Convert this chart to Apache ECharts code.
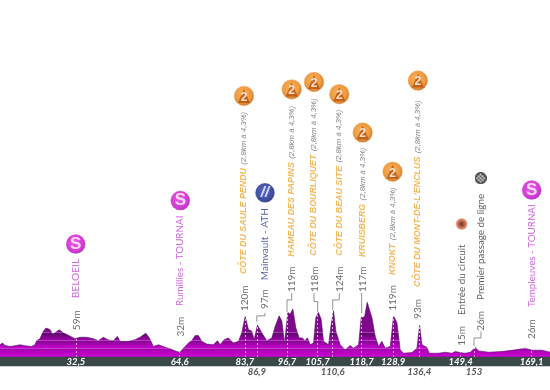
<!DOCTYPE html>
<html><head><meta charset="utf-8">
<style>html,body{margin:0;padding:0;background:#fff}#c{width:550px;height:390px}</style>
<script src="https://cdn.jsdelivr.net/npm/echarts@6/dist/echarts.min.js"></script>
</head><body><div id="c"></div>
<script>
// Profile: position along the axis (km) and altitude (m)
const profileKm = [9.7,10.5,11.2,12.7,14.2,15.7,17.2,19.2,20.2,20.7,21.7,22.7,23.5,24.7,25.5,26.2,27.5,28.7,30.2,32.2,33.7,35.7,37.7,39.2,40.7,42.2,43.7,44.9,45.7,48.2,50.2,51.7,53.4,54.5,55.7,57.2,59.2,60.7,62.7,63.7,64.7,66.2,67.2,68.2,69.2,70.2,71.7,73.7,74.9,75.7,76.9,78.2,79.7,81.2,82.2,83.2,84.2,85.2,85.9,86.9,88.2,89.7,91.2,92.2,93.4,94.2,95,96,96.7,97.5,98.4,99.4,100.4,101,101.9,102.7,103.7,104.4,105.2,106,106.7,108.2,109,109.7,110.4,111.7,113.2,114.7,115.7,117.2,118,119,119.8,121.2,122.2,123.2,124.2,125.2,126.7,127.7,128.7,129.7,130.7,133.2,134.7,135.5,136.2,137.7,138.4,141.2,143.2,145.2,146.2,147.7,149.2,150.7,152.2,153.2,156.2,160.2,164.2,167.2,169.2,172.2,174.7];
const profileM = [36,41,34,31,33,36,33,31,36,48,54,76,85,81,68,71,80,71,64,54,58,58,54,48,58,50,48,61,46,46,51,58,70,56,31,36,29,24,16,14,26,41,48,63,63,46,38,36,48,36,51,56,41,46,71,119,81,76,51,94,71,48,56,90,121,106,41,131,126,141,86,56,56,48,56,36,41,116,131,111,46,36,96,136,76,36,21,34,26,36,116,118,161,116,61,31,46,26,31,121,101,21,11,13,26,93,36,28,11,11,14,11,16,13,11,14,28,18,14,16,21,26,20,20,14];

// Distance markers: where they sit on the axis, what they print, altitude there
const tickKm    = [32.5,63.6,83.1,86.7,95.75,104.95,109.45,118.14,127.6,135.4,147.8,151.8,169.1];
const tickText  = ['32,5','64,6','83,7','86,9','96,7','105,7','110,6','118,7','128,9','136,4','149,4','153','169,1'];
const tickRow   = [0,0,0,1,0,0,1,0,0,1,0,1,0];
const tickAlt   = [54,14,119,94,131,131,136,116,121,93,13,28,20];

// Rotated place labels
const placeKm   = [32.4,63.77,82.86,89.16,97.16,103.85,111.43,118.44,127.4,135.0,148.1,153.8,169.1];
const placeBase = [172.6,150,244,226,295,298,298,294,241,206,123.5,168,147];
const placeName = ['BELOEIL','Rumillies - TOURNAI','CÔTE DU SAULE PENDU','Mainvault - ATH','HAMEAU DES PAPINS','CÔTE DU BOURLIQUET','CÔTE DU BEAU SITE','KRUISBERG','KNOKT','CÔTE DU MONT-DE-L\'ENCLUS','Entrée du circuit','Premier passage de ligne','Templeuves - TOURNAI'];
const placeNote = ['','','(2,8km à 4,3%)','','(2,8km à 4,3%)','(2,8km à 4,3%)','(2,8km à 4,3%)','(2,8km à 4,3%)','(2,8km à 4,3%)','(2,8km à 4,3%)','','',''];
const placeKind = ['sprint','sprint','climb','ath','climb','climb','climb','climb','climb','climb','circuit','line','sprint'];
const iconAlt   = [332,460,768,483,787,809,773,660,545,813,391,526,491];

// Altitude labels
const altKm   = [32.7,63.77,83.16,89.16,97.16,104.15,111.43,118.5,127.6,135.1,148.1,153.9,169.1];
const altBase = [79,60,135,141,191,191,191,191,136,112,33,77,53];
const altText = ['59m','32m','120m','97m','119m','118m','124m','117m','119m','93m','15m','26m','26m'];

// Elbowed leaders: [km at peak, from alt, elbow alt, km at label, to alt]
const leaders = [
  [86.7,103,121,89.16,130],
  [95.75,133,168,97.16,188],
  [104.95,132,163,103.85,188],
  [109.45,138,168,111.43,188],
  [118.14,129,188,118.14,188],
  [151.8,32,56,153.9,76]
];

const yMax = 1050;
const bands = [[0,26,'#cb00d3'],[26,48,'#a400ae'],[48,72,'#7f0a8b'],[72,yMax,'#560a66']];
const bandLines = [26,48,72];
const stops = [];
bands.forEach(b=>{
  stops.push({offset:1-b[1]/yMax,color:b[2]});
  stops.push({offset:1-b[0]/yMax,color:b[2]});
});
stops.sort((a,b)=>a.offset-b.offset);

// Chequered-flag ball
const ball = document.createElement('canvas');
ball.width = ball.height = 26;
(function(){
  const g = ball.getContext('2d');
  g.beginPath();g.arc(13,13,13,0,Math.PI*2);g.fillStyle='#111';g.fill();
  g.save();g.beginPath();g.arc(13,13,10,0,Math.PI*2);g.clip();
  g.fillStyle='#ddd';
  for(let r=0;r<7;r++)for(let c=0;c<7;c++)if((r+c)%2===0)g.fillRect(c*4-1,r*4-1,4,4);
  g.restore();
})();

const radial = (a,b,c)=>({type:'radial',x:0.45,y:0.42,r:0.58,colorStops:[{offset:0,color:a},{offset:0.7,color:b},{offset:1,color:c}]});
const textColor = {sprint:'#c23fd4',climb:'#f0a52e',ath:'#2b3a96',circuit:'#333',line:'#333'};
const placeSize = {sprint:9.8,ath:10,circuit:9.8,line:9.8};
const iconStyle = {
  sprint:{size:19.5,color:radial('#e22fe0','#cc0ccc','#a000aa'),text:'S',fs:17},
  climb:{size:19.5,color:radial('#f7a030','#ea8010','#b9570a'),text:'',fs:12},
  ath:{size:19.5,color:radial('#2a44b8','#13238f','#0a1566'),text:'//',fs:15},
  circuit:{size:12,color:{type:'radial',x:0.5,y:0.5,r:0.5,colorStops:[{offset:0,color:'#3a0a00'},{offset:0.45,color:'#a8340c'},{offset:1,color:'#f0a880'}]},text:'',fs:8}
};

const labelBase = {show:true,position:'inside',align:'left',verticalAlign:'middle',rotate:90};
const climbIdx = placeKm.map((k,i)=>i).filter(i=>placeKind[i]==='climb');

const series = [
  {type:'line',data:profileKm.map((k,i)=>[k,profileM[i]]),symbol:'none',z:2,
   lineStyle:{width:0.6,color:'#560a66'},
   areaStyle:{opacity:1,color:{type:'linear',x:0,y:0,x2:0,y2:357,global:true,colorStops:stops}},
   markLine:{silent:true,symbol:'none',label:{show:false},animation:false,
     data:[
       ...bandLines.map(v=>({yAxis:v,lineStyle:{color:'#fff',width:0.7,type:'solid',opacity:0.35}})),
       ...tickKm.map((k,i)=>[{coord:[k,0],lineStyle:{color:'#fff',width:0.8,type:[2,2],opacity:0.85}},{coord:[k,tickAlt[i]]}])
     ]}},
  ...leaders.map(l=>({type:'line',symbol:'none',silent:true,z:3,
     lineStyle:{color:'#777',width:0.8},
     data:[[l[0],l[1]],[l[0],l[2]],[l[3],l[2]],[l[3],l[4]]]})),
  {type:'scatter',symbolSize:1,z:4,silent:true,itemStyle:{color:'rgba(0,0,0,0)'},
   data:altKm.map((k,i)=>({value:[k,altBase[i]],
     label:{...labelBase,formatter:altText[i],fontFamily:'Lato',fontSize:10,color:'#444'}}))},
  {type:'scatter',symbolSize:1,z:4,silent:true,itemStyle:{color:'rgba(0,0,0,0)'},
   data:placeKm.map((k,i)=>{
     const kind = placeKind[i];
     const climb = kind==='climb';
     const allCaps = placeName[i]===placeName[i].toUpperCase();
     return {value:[k,placeBase[i]],label:{...labelBase,
       formatter:climb?'{n|'+placeName[i]+'} {s|'+placeNote[i]+'}':'{p|'+placeName[i]+'}',
       rich:{
         n:{fontFamily:'Liberation Sans',fontWeight:'bold',fontStyle:'italic',fontSize:8.9,color:textColor[kind]},
         s:{fontFamily:'Liberation Sans',fontStyle:'italic',fontSize:7.8,color:'#666'},
         p:{fontFamily:'Lato',fontSize:allCaps?10.2:(placeSize[kind]||10),color:textColor[kind]}
       }}};
   })},
  {type:'scatter',z:5,silent:true,
   data:placeKm.map((k,i)=>{
     const kind = placeKind[i];
     if(kind==='line'){
       return {value:[k,iconAlt[i]],symbol:'image://'+ball.toDataURL(),symbolSize:12};
     }
     const s = iconStyle[kind];
     return {value:[k,iconAlt[i]],symbol:'circle',symbolSize:s.size,
       itemStyle:{color:s.color,borderColor:kind==='climb'?'#efa045':'rgba(255,255,255,0.4)',borderWidth:0.6},
       label:{show:!!s.text,position:'inside',formatter:s.text,color:'#fff',fontFamily:'Liberation Sans',fontWeight:'bold',fontStyle:kind==='ath'?'italic':'normal',fontSize:s.fs}};
   })},
  {type:'scatter',z:6,silent:true,symbol:'triangle',symbolSize:[12,14],
   itemStyle:{color:'#b9520c',opacity:0.8},
   data:climbIdx.map(i=>({value:[placeKm[i],iconAlt[i]],
     label:{show:true,position:'inside',offset:[0,1.5],formatter:'2',color:'#fff',fontFamily:'Liberation Sans',fontWeight:'bold',fontSize:12}}))}
];

const lookup = {};
tickKm.forEach((k,i)=>{lookup[k]=tickText[i];});
const rowValues = r=>tickKm.filter((k,i)=>tickRow[i]===r);
const xBase = {type:'value',min:9.72,max:174.59,splitLine:{show:false},axisTick:{show:false}};

const chart = echarts.init(document.getElementById('c'),null,{renderer:'canvas'});
chart.setOption({
  animation:false,
  backgroundColor:'#fff',
  grid:{left:0,right:0,top:0,bottom:33},
  xAxis:[
    {...xBase,position:'bottom',offset:4.6,z:6,
     axisLine:{show:true,onZero:false,lineStyle:{color:'#3a4848',width:9.4}},
     axisLabel:{customValues:rowValues(0),verticalAlign:'middle',margin:0,color:'#fff',fontFamily:'Lato',fontWeight:'bold',fontStyle:'italic',fontSize:9.5,
       formatter:v=>lookup[v]}},
    {...xBase,position:'bottom',offset:0,z:6,
     axisLine:{show:false},
     axisLabel:{customValues:rowValues(1),verticalAlign:'middle',margin:15,color:'#555',fontFamily:'Lato',fontWeight:'bold',fontStyle:'italic',fontSize:9.5,
       formatter:v=>lookup[v]}}
  ],
  yAxis:{type:'value',min:0,max:yMax,show:false,splitLine:{show:false}},
  series
});
</script></body></html>
